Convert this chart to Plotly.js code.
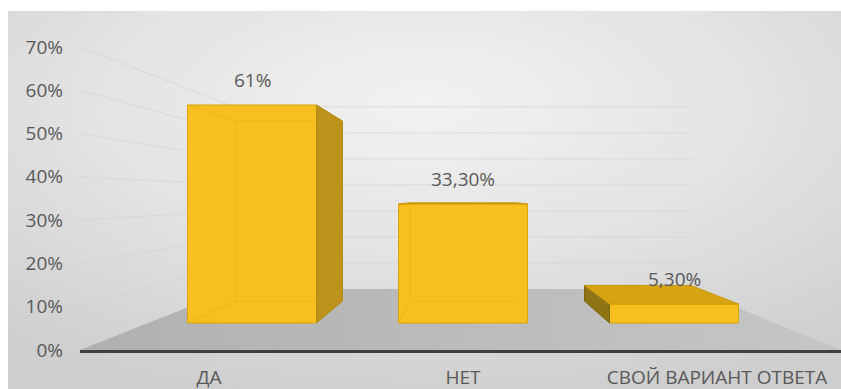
<!DOCTYPE html>
<html>
<head>
<meta charset="utf-8">
<script src="https://cdn.plot.ly/plotly-3.0.1.min.js"></script>
<style>html,body{margin:0;padding:0;background:#fff;}#chart{width:841px;height:389px;}</style>
</head>
<body>
<div id="chart"></div>
<script>
// ---- data ----
const categories = ['ДА', 'НЕТ', 'СВОЙ ВАРИАНТ ОТВЕТА'];
const values = [61, 33.3, 5.3];
const valueLabels = ['61%', '33,30%', '5,30%'];
const yTicks = [0, 10, 20, 30, 40, 50, 60, 70];
const yTickLabels = ['0%', '10%', '20%', '30%', '40%', '50%', '60%', '70%'];

// ---- geometry (pixel layout of the 3D projection) ----
const W = 841, H = 389;
const L = 80, R = 841, T = 11, B = 350;          // plot area in px
const axisPxPerUnit = 4.33;                       // value axis scale at front plane
const labelPos0 = 209, labelStep = 254;           // category label positions
const barPos0 = 252, barStep = 211, barWidthPx = 129;
const barBasePx = 323, barPxPerUnit = 3.574;      // bar plane scale
const VP = {x: 466, y: 197};                      // vanishing point
const sBar = 0.826, sWall = 0.601;                // depth factors

const px2pX = p => (p - L) / (R - L);
const px2pY = p => (B - p) / (B - T);
const back = (p, s) => ({x: VP.x + s * (p.x - VP.x), y: VP.y + s * (p.y - VP.y)});
const pathOf = pts => 'M' + pts.map(p => px2pX(p.x).toFixed(5) + ',' + px2pY(p.y).toFixed(5)).join(' L') + ' Z';
const lineOf = pts => 'M' + pts.map(p => px2pX(p.x).toFixed(5) + ',' + px2pY(p.y).toFixed(5)).join(' L');

// ---- background svg (gradient, floor, faint perspective gridlines) ----
const fl = {x: L, y: B}, fr = {x: R, y: B};
const bl = back(fl, sWall), br = back(fr, sWall);
let grid = '';
yTicks.forEach(v => {
  if (v === 0) return;
  const f = {x: L, y: B - v * axisPxPerUnit};
  const b = back(f, sWall);
  const bRight = {x: br.x, y: b.y};
  grid += `<polyline points="${f.x},${f.y} ${b.x},${b.y} ${bRight.x},${bRight.y}" fill="none" stroke="#d2d2d2" stroke-opacity="0.5" stroke-width="1.2"/>`;
});
const svg = `<svg xmlns="http://www.w3.org/2000/svg" viewBox="8 11 833 378" width="833" height="378" preserveAspectRatio="none">
<defs>
<radialGradient id="bg" cx="0.5" cy="0.25" r="0.8">
<stop offset="0" stop-color="#f2f2f2"/><stop offset="0.5" stop-color="#e3e3e3"/><stop offset="1" stop-color="#cecece"/>
</radialGradient>
<linearGradient id="fl" x1="0" y1="0" x2="1" y2="0">
<stop offset="0" stop-color="#b0b0b0"/><stop offset="1" stop-color="#c6c6c6"/>
</linearGradient>
</defs>
<rect x="8" y="11" width="833" height="378" fill="url(#bg)"/>
${grid}
<polygon points="${fl.x},${fl.y} ${bl.x},${bl.y} ${br.x},${br.y} ${fr.x},${fr.y}" fill="url(#fl)"/>
</svg>`;
const bgURI = 'data:image/svg+xml;charset=utf-8,' + encodeURIComponent(svg);

// ---- bar 3D faces derived from data ----
const shapes = [];
const faceColors = {right: '#bd921b', left: '#8e7413', top: '#d6a413'};
values.forEach((v, i) => {
  const cx = barPos0 + barStep * i;
  const l = cx - barWidthPx / 2, r = cx + barWidthPx / 2;
  const t = barBasePx - v * barPxPerUnit, b = barBasePx;
  const ftl = {x: l, y: t}, ftr = {x: r, y: t}, fbl = {x: l, y: b}, fbr = {x: r, y: b};
  const btl = back(ftl, sBar), btr = back(ftr, sBar), bbl = back(fbl, sBar), bbr = back(fbr, sBar);
  // faint inner (see-through) edges
  [[ftl, btl], [fbl, bbl], [btl, bbl], [bbl, bbr], [btl, btr]].forEach(seg => {
    shapes.push({type: 'path', xref: 'paper', yref: 'paper', path: lineOf(seg),
      line: {color: 'rgba(200,145,0,0.22)', width: 1}});
  });
  if (r < VP.x) shapes.push({type: 'path', xref: 'paper', yref: 'paper', path: pathOf([ftr, btr, bbr, fbr]),
    fillcolor: faceColors.right, line: {color: '#b38a14', width: 1}});
  if (l > VP.x) shapes.push({type: 'path', xref: 'paper', yref: 'paper', path: pathOf([ftl, btl, bbl, fbl]),
    fillcolor: faceColors.left, line: {color: '#7d6610', width: 1}});
  if (t > VP.y + 2) shapes.push({type: 'path', xref: 'paper', yref: 'paper', path: pathOf([ftl, ftr, btr, btl]),
    fillcolor: faceColors.top, line: {color: '#c99a10', width: 1}});
});

const fontFam = '"Open Sans", sans-serif';
const txtColor = '#595959';

const traces = [
  {type: 'scatter', mode: 'markers', x: categories.map((c, i) => i), y: categories.map(() => 0),
   xaxis: 'x', yaxis: 'y', marker: {opacity: 0}, hoverinfo: 'skip', cliponaxis: true},
  {type: 'bar', x: categories.map((c, i) => i), y: values, xaxis: 'x2', yaxis: 'y2',
   width: barWidthPx / barStep,
   marker: {color: '#f7c01f', line: {color: '#d9a40e', width: 1}},
   hoverinfo: 'skip'}
];

const annotations = values.map((v, i) => ({
  xref: 'x2', yref: 'y2', x: i, y: v, text: valueLabels[i], showarrow: false,
  yanchor: 'bottom', yshift: 10, font: {family: fontFam, size: 19, color: txtColor}
}));

const layout = {
  width: W, height: H,
  margin: {l: L, r: W - R, t: T, b: H - B, pad: 0},
  paper_bgcolor: '#ffffff', plot_bgcolor: 'rgba(0,0,0,0)',
  showlegend: false,
  xaxis: {type: 'linear', range: [(L - labelPos0) / labelStep, (R - labelPos0) / labelStep],
    tickvals: categories.map((c, i) => i), ticktext: categories, ticks: '', showgrid: false, zeroline: false,
    showline: true, linecolor: '#3f3f3f', linewidth: 2.5, ticklabelstandoff: 9,
    tickfont: {family: fontFam, size: 19, color: txtColor}, fixedrange: true},
  yaxis: {range: [0, (B - T) / axisPxPerUnit], tickvals: yTicks, ticktext: yTickLabels, ticks: '',
    showgrid: false, zeroline: false, showline: false, ticklabelstandoff: 16,
    tickfont: {family: fontFam, size: 19, color: txtColor}, fixedrange: true},
  xaxis2: {type: 'linear', overlaying: 'x', range: [(L - barPos0) / barStep, (R - barPos0) / barStep],
    visible: false, fixedrange: true},
  yaxis2: {overlaying: 'y', range: [-(B - barBasePx) / barPxPerUnit, (barBasePx - T) / barPxPerUnit],
    visible: false, fixedrange: true},
  images: [{source: bgURI, xref: 'paper', yref: 'paper', x: px2pX(8), y: px2pY(11),
    sizex: (841 - 8) / (R - L), sizey: (389 - 11) / (B - T), sizing: 'stretch', xanchor: 'left', yanchor: 'top', layer: 'below'}],
  shapes: shapes,
  annotations: annotations
};

Plotly.newPlot('chart', traces, layout, {displayModeBar: false, staticPlot: true});
</script>
</body>
</html>
